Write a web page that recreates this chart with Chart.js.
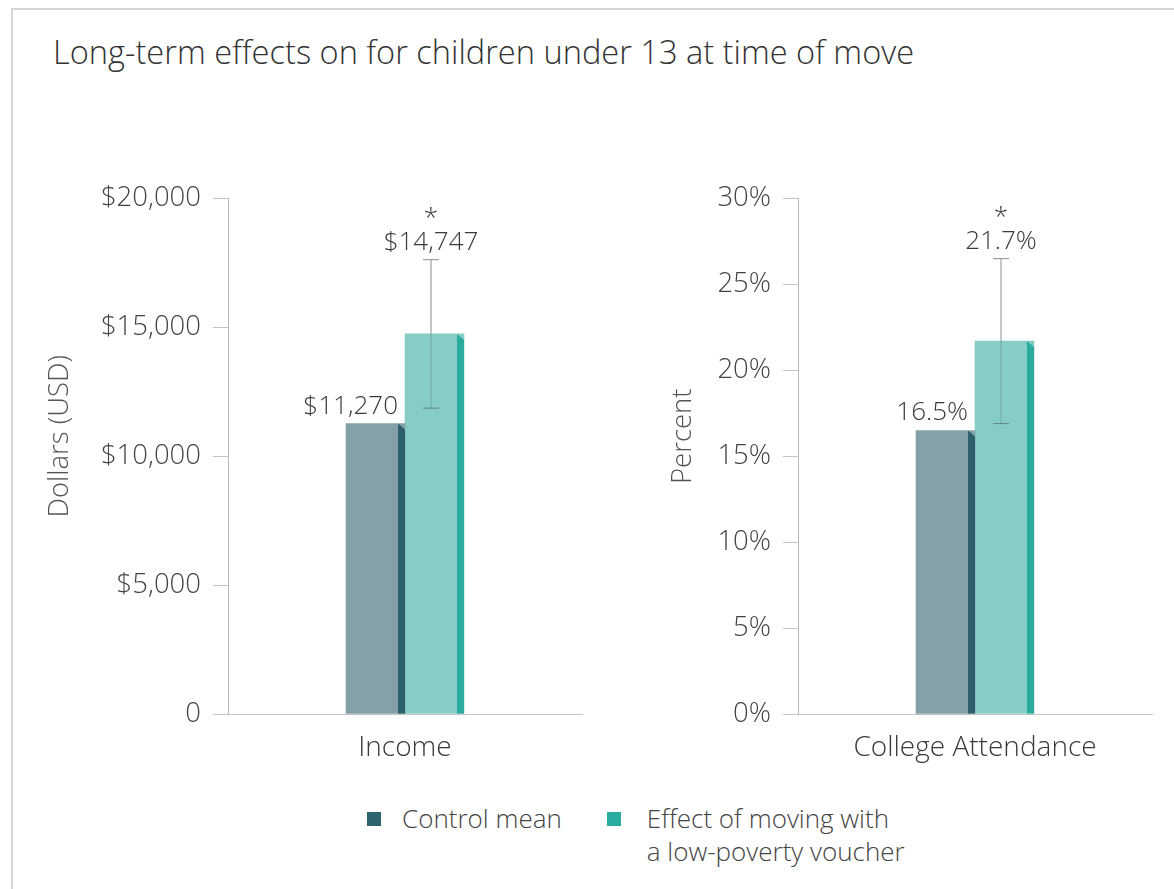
<!DOCTYPE html>
<html>
<head>
<meta charset="utf-8">
<title>Long-term effects on for children under 13 at time of move</title>
<script src="https://cdn.jsdelivr.net/npm/chart.js@4"></script>
<style>
  html, body { margin: 0; padding: 0; background: #fff; overflow: hidden; }
  body { width: 1174px; height: 889px; position: relative; font-family: 'Open Sans', sans-serif; }
  .frame { position: absolute; left: 11px; top: 8px; width: 1200px; height: 920px; border: 2px solid #d6d6d6; box-sizing: border-box; }
  .title { position: absolute; left: 53px; top: 32px; font-size: 32.6px; line-height: 40px; color: #333; font-weight: 300; white-space: nowrap; }
  .panel { position: absolute; top: 170px; width: 570px; height: 610px; }
  .legend { position: absolute; top: 802px; left: 367px; display: flex; font-size: 26px; font-weight: 300; color: #444; line-height: 33px; }
  .legend .item { display: flex; align-items: flex-start; }
  .legend .swatch { width: 14px; height: 14px; margin-top: 10px; margin-right: 21px; }
</style>
</head>
<body>
<div class="frame"></div>
<div class="title">Long-term effects on for children under 13 at time of move</div>
<div class="panel" style="left:30px"><canvas id="chart-income"></canvas></div>
<div class="panel" style="left:600px"><canvas id="chart-college"></canvas></div>
<div class="legend" id="legend"></div>

<script>
'use strict';

// ===== DATA =====
const seriesNames = ['Control mean', 'Effect of moving with\na low-poverty voucher'];
const incomeCategories = ['Income'];
const incomeValues = [11270, 14747];      // control, voucher
const incomeErrors = [null, 2880];        // +/- around the voucher bar
const incomeTicks = [0, 5000, 10000, 15000, 20000];
const collegeCategories = ['College Attendance'];
const collegeValues = [16.5, 21.7];
const collegeErrors = [null, 4.8];
const collegeTicks = [0, 5, 10, 15, 20, 25, 30];
const significant = [false, true];

// front face, side face, legend swatch
const frontColors = ['#84a1a7', '#86cdc6'];
const sideColors = ['#2d606c', '#2aab9d'];
const legendColors = ['#2e6370', '#2aab9f'];

const FONT = "'Open Sans', sans-serif";
const SIDE = 7;

// draws the 3d side strip, error bar and value labels
const barDecor = {
  id: 'barDecor',
  afterDatasetsDraw(chart, args, opts) {
    const ctx = chart.ctx;
    const yScale = chart.scales.y;
    chart.data.datasets.forEach((ds, di) => {
      const meta = chart.getDatasetMeta(di);
      meta.data.forEach((bar) => {
        const right = bar.x + bar.width / 2;
        const frontRight = right - SIDE;
        const frontCx = (bar.x - bar.width / 2 + frontRight) / 2;

        // side face
        ctx.save();
        ctx.fillStyle = sideColors[di];
        ctx.beginPath();
        ctx.moveTo(frontRight, bar.y);
        ctx.lineTo(right, bar.y + SIDE - 1);
        ctx.lineTo(right, bar.base);
        ctx.lineTo(frontRight, bar.base);
        ctx.closePath();
        ctx.fill();
        ctx.restore();

        const value = ds.data[0];
        const err = opts.errors[di];
        let labelY = bar.y - 10;

        if (err != null) {
          const top = yScale.getPixelForValue(value + err);
          const bottom = yScale.getPixelForValue(value - err);
          ctx.save();
          ctx.lineWidth = 1;
          ctx.strokeStyle = '#8c8c8c';
          ctx.beginPath();
          ctx.moveTo(frontCx, top);
          ctx.lineTo(frontCx, bar.y);
          ctx.moveTo(frontCx - 8, top);
          ctx.lineTo(frontCx + 8, top);
          ctx.stroke();
          ctx.strokeStyle = 'rgba(90,110,110,0.35)';
          ctx.beginPath();
          ctx.moveTo(frontCx, bar.y);
          ctx.lineTo(frontCx, bottom);
          ctx.stroke();
          ctx.strokeStyle = 'rgba(70,90,90,0.6)';
          ctx.beginPath();
          ctx.moveTo(frontCx - 8, bottom);
          ctx.lineTo(frontCx + 8, bottom);
          ctx.stroke();
          ctx.restore();
          labelY = top - 10;
        }

        ctx.save();
        ctx.font = `300 26px ${FONT}`;
        ctx.fillStyle = '#3a3a3a';
        ctx.textBaseline = 'alphabetic';
        if (err != null) {
          ctx.textAlign = 'center';
          ctx.fillText(opts.format(value), frontCx, labelY);
        } else {
          ctx.textAlign = 'right';
          ctx.fillText(opts.format(value), frontRight, labelY);
        }
        if (significant[di]) {
          ctx.textAlign = 'center';
          ctx.fillText('*', frontCx, labelY - 24);
        }
        ctx.restore();
      });
    });
  },
  // rotated y-axis title, sitting a little above the middle of the plot
  afterDraw(chart, args, opts) {
    const ctx = chart.ctx;
    const area = chart.chartArea;
    ctx.save();
    ctx.translate(opts.titleX, (area.top + area.bottom) / 2 - 20);
    ctx.rotate(-Math.PI / 2);
    ctx.font = `300 27.5px ${FONT}`;
    ctx.fillStyle = '#555';
    ctx.textAlign = 'center';
    ctx.textBaseline = 'middle';
    ctx.fillText(opts.title, 0, 0);
    ctx.restore();
  }
};

function makePanel(canvasId, categories, values, errors, ticks, axisTitle, titleX, tickFormat, valueFormat) {
  const ctx = document.getElementById(canvasId);
  return new Chart(ctx, {
    type: 'bar',
    data: {
      labels: categories,
      datasets: values.map((v, i) => ({
        label: seriesNames[i],
        data: [v],
        backgroundColor: frontColors[i],
        borderWidth: 0,
        barThickness: 52 + SIDE
      }))
    },
    options: {
      responsive: true,
      maintainAspectRatio: false,
      animation: false,
      layout: { padding: { top: 28, right: 18, left: 0, bottom: 0 } },
      plugins: {
        legend: { display: false },
        tooltip: { enabled: false },
        barDecor: { errors, format: valueFormat, title: axisTitle, titleX }
      },
      scales: {
        x: {
          grid: { display: false, drawTicks: false },
          border: { display: true, color: '#c4c4c4', width: 1 },
          ticks: { color: '#3a3a3a', font: { family: FONT, size: 28, weight: 300 }, padding: 17 },
          afterFit: (s) => { s.height = 66; }
        },
        y: {
          min: ticks[0],
          max: ticks[ticks.length - 1],
          afterBuildTicks: (s) => { s.ticks = ticks.map(v => ({ value: v })); },
          grid: { drawOnChartArea: false, drawTicks: true, tickLength: 15, color: '#c4c4c4' },
          border: { display: true, color: '#b8b8b8', dash: [1, 1] },
          ticks: {
            color: '#444',
            font: { family: FONT, size: 27.5, weight: 300 },
            padding: 12,
            callback: (v) => tickFormat(v)
          },
          afterFit: (s) => { s.width = 198; }
        }
      }
    },
    plugins: [barDecor]
  });
}

const dollars = (v) => '$' + v.toLocaleString('en-US');

makePanel('chart-income', incomeCategories, incomeValues, incomeErrors, incomeTicks,
  'Dollars (USD)', 30,
  (v) => v === 0 ? '0' : dollars(v),
  dollars);

makePanel('chart-college', collegeCategories, collegeValues, collegeErrors, collegeTicks,
  'Percent', 83,
  (v) => v + '%',
  (v) => v.toFixed(1) + '%');

// ===== LEGEND =====
const legend = document.getElementById('legend');
seriesNames.forEach((name, i) => {
  const item = document.createElement('div');
  item.className = 'item';
  item.style.marginRight = i === 0 ? '45px' : '0';
  const sw = document.createElement('span');
  sw.className = 'swatch';
  sw.style.background = legendColors[i];
  if (i === 1) sw.style.marginRight = '26px';
  const txt = document.createElement('span');
  txt.innerHTML = name.replace('\n', '<br>');
  item.appendChild(sw);
  item.appendChild(txt);
  legend.appendChild(item);
});
</script>
</body>
</html>
